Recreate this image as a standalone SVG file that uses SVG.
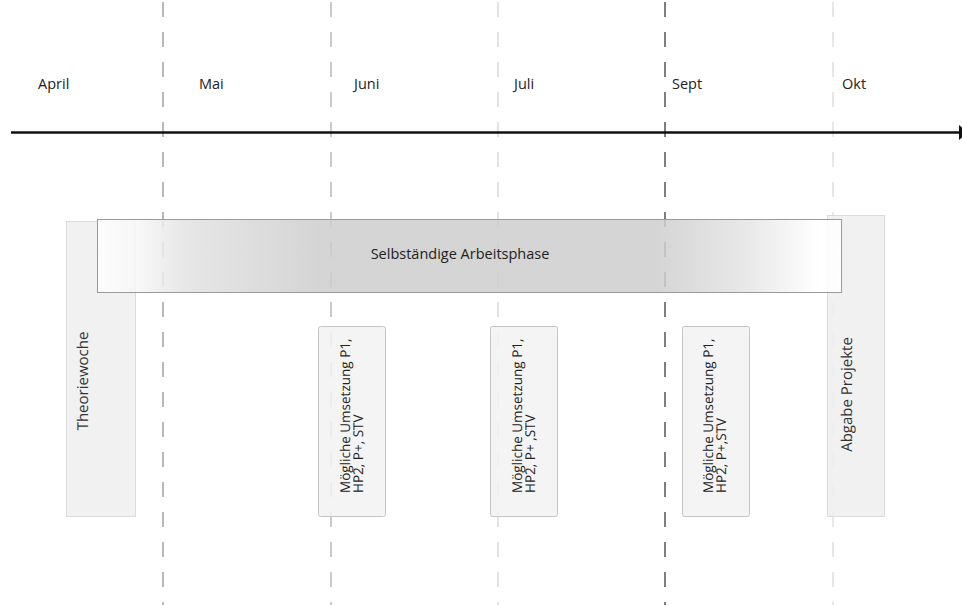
<svg xmlns="http://www.w3.org/2000/svg" width="962" height="605" viewBox="0 0 962 605">
  <defs>
    <linearGradient id="barGrad" x1="0" y1="0" x2="1" y2="0">
      <stop offset="0" stop-color="#ffffff"/>
      <stop offset="0.05" stop-color="#f7f7f7"/>
      <stop offset="0.12" stop-color="#e2e2e2"/>
      <stop offset="0.3" stop-color="#cdcdcd"/>
      <stop offset="0.75" stop-color="#cdcdcd"/>
      <stop offset="0.88" stop-color="#e6e6e6"/>
      <stop offset="0.97" stop-color="#ffffff"/>
      <stop offset="1" stop-color="#ffffff"/>
    </linearGradient>
  </defs>
  <style>
    .dash { fill: none; stroke-width: 1.2; stroke-dasharray: 15 15; }
    .month { font-family: "Open Sans", "Noto Sans", sans-serif; font-size: 14.5px; fill: #222; }
    .side { fill: #efefef; fill-opacity: 0.85; stroke: #dcdcdc; stroke-width: 1; }
    .opt { fill: #f2f2f2; fill-opacity: 0.85; stroke: #c4c4c4; stroke-width: 1; }
    .sideText { font-family: "Open Sans", "Noto Sans", sans-serif; font-size: 15px; fill: #333; text-rendering: geometricPrecision; }
    .optText { font-family: "Open Sans", "Noto Sans", sans-serif; font-size: 13.5px; fill: #222; text-rendering: geometricPrecision; }
    .barText { font-family: "Open Sans", "Noto Sans", sans-serif; font-size: 14.5px; fill: #222; }
  </style>

  <g id="connectors">
    <line class="dash" x1="163" y1="2" x2="163" y2="605" stroke="#8a8a8a"/>
    <line class="dash" x1="331" y1="2" x2="331" y2="605" stroke="#a8a8a8"/>
    <line class="dash" x1="498" y1="2" x2="498" y2="605" stroke="#d0d0d0"/>
    <line class="dash" x1="665" y1="2" x2="665" y2="605" stroke="#2a2a2a"/>
    <line class="dash" x1="833" y1="2" x2="833" y2="605" stroke="#d8d8d8"/>
    <line id="timeline" x1="11" y1="132.5" x2="960" y2="132.5" stroke="#111" stroke-width="2.5"/>
    <polygon points="959,125 959,140 968,132.5" fill="#111"/>
  </g>

  <g id="months">
    <text class="month" x="38" y="89">April</text>
    <text class="month" x="199" y="89">Mai</text>
    <text class="month" x="354" y="89">Juni</text>
    <text class="month" x="514" y="89">Juli</text>
    <text class="month" x="672" y="89">Sept</text>
    <text class="month" x="842" y="89">Okt</text>
  </g>

  <g id="theoriewoche">
    <rect class="side" x="66.5" y="221.5" width="69" height="295"/>
    <text class="sideText" transform="translate(88,381) rotate(-90)" text-anchor="middle">Theoriewoche</text>
  </g>

  <g id="abgabe">
    <rect class="side" x="827.5" y="215.5" width="57" height="301"/>
    <text class="sideText" transform="translate(852,394.5) rotate(-90)" text-anchor="middle">Abgabe Projekte</text>
  </g>

  <g id="arbeitsphase">
    <rect x="97.5" y="219.5" width="744" height="73" fill="url(#barGrad)" fill-opacity="0.85" stroke="#9a9a9a" stroke-width="1"/>
    <text class="barText" x="460" y="259" text-anchor="middle">Selbständige Arbeitsphase</text>
  </g>

  <g id="umsetzung1">
    <rect class="opt" x="318.5" y="326.5" width="67" height="190" rx="2"/>
    <text class="optText" transform="translate(350,493) rotate(-90)"><tspan x="0" y="0">Mögliche Umsetzung P1,</tspan><tspan x="0" y="13">HP2, P+, STV</tspan></text>
  </g>

  <g id="umsetzung2">
    <rect class="opt" x="490.5" y="326.5" width="67" height="190" rx="2"/>
    <text class="optText" transform="translate(522,493) rotate(-90)"><tspan x="0" y="0">Mögliche Umsetzung P1,</tspan><tspan x="0" y="13">HP2, P+ ,STV</tspan></text>
  </g>

  <g id="umsetzung3">
    <rect class="opt" x="682.5" y="326.5" width="67" height="190" rx="2"/>
    <text class="optText" transform="translate(713,493) rotate(-90)"><tspan x="0" y="0">Mögliche Umsetzung P1,</tspan><tspan x="0" y="13">HP2, P+,STV</tspan></text>
  </g>
</svg>
